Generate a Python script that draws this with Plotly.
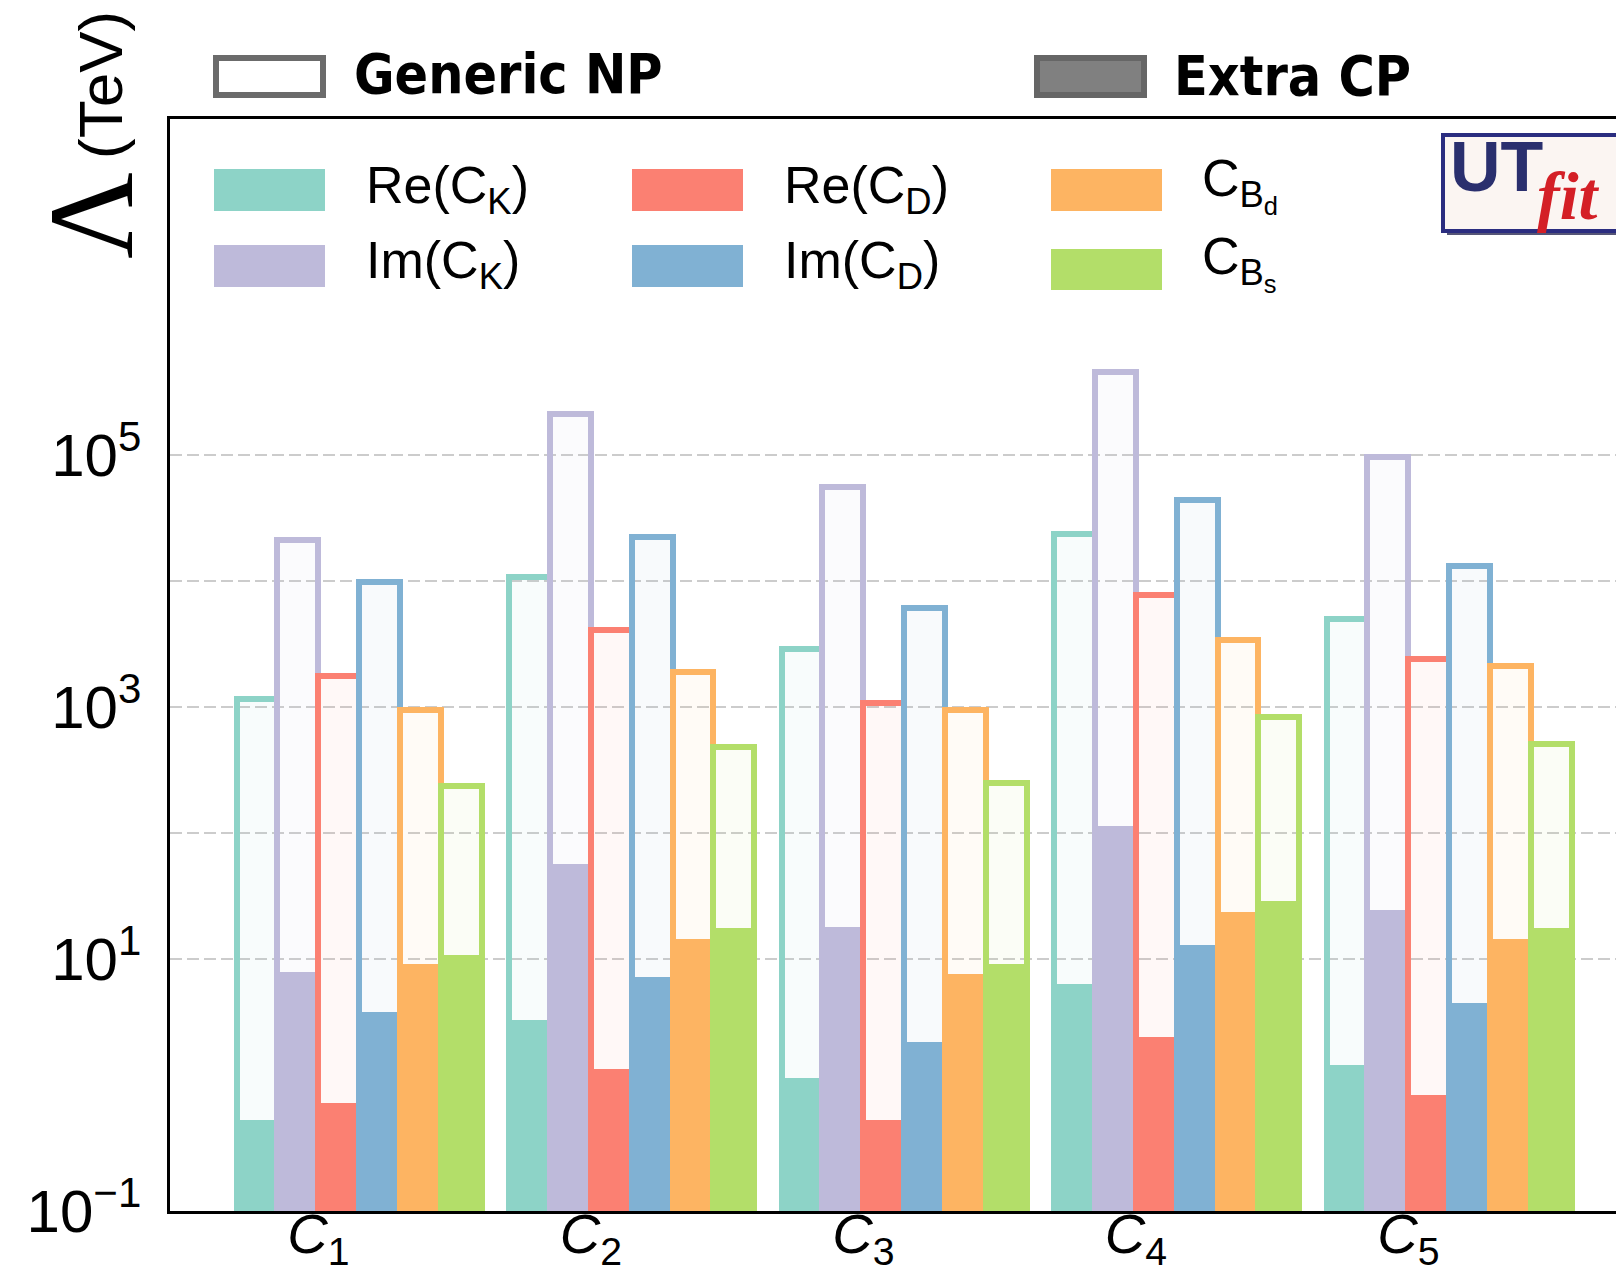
import plotly.graph_objects as go

# ---------------- data ----------------
categories = ["C1", "C2", "C3", "C4", "C5"]
category_labels = ["<i>C</i><sub>1</sub>", "<i>C</i><sub>2</sub>", "<i>C</i><sub>3</sub>",
                   "<i>C</i><sub>4</sub>", "<i>C</i><sub>5</sub>"]
series_names = ["Re(C<sub>K</sub>)", "Im(C<sub>K</sub>)", "Re(C<sub>D</sub>)",
                "Im(C<sub>D</sub>)", "C<sub>B<sub>d</sub></sub>", "C<sub>B<sub>s</sub></sub>"]
series_colors = ["#8dd3c7", "#bebada", "#fb8072", "#80b1d3", "#fdb462", "#b3de69"]

# Generic NP bound (TeV) per series, per category C1..C5
generic_re_ck = [1.15e3, 1.08e4, 2.9e3, 2.35e4, 5.0e3]
generic_im_ck = [2.1e4, 2.1e5, 5.6e4, 4.6e5, 9.7e4]
generic_re_cd = [1.75e3, 4.1e3, 1.07e3, 7.8e3, 2.4e3]
generic_im_cd = [9.8e3, 2.25e4, 6.1e3, 4.4e4, 1.32e4]
generic_cbd = [950, 1.9e3, 950, 3.4e3, 2.1e3]
generic_cbs = [235, 480, 248, 830, 510]

# Extra CP bound (TeV)
extra_re_ck = [0.40, 3.0, 0.97, 5.9, 1.26]
extra_im_ck = [7.4, 54, 17, 108, 23]
extra_re_cd = [0.58, 1.18, 0.40, 2.16, 0.69]
extra_im_cd = [3.5, 6.7, 1.96, 12.1, 4.1]
extra_cbd = [8.5, 13.6, 7.1, 22.3, 13.6]
extra_cbs = [10, 16.7, 8.6, 27, 16.7]

generic = [generic_re_ck, generic_im_ck, generic_re_cd, generic_im_cd, generic_cbd, generic_cbs]
extra = [extra_re_ck, extra_im_ck, extra_re_cd, extra_im_cd, extra_cbd, extra_cbs]

y_tickvals = [0.1, 10, 100, 1000, 1e4, 1e5]
y_ticktext = ["10<sup>\u22121</sup>", "10<sup>1</sup>", "", "10<sup>3</sup>", "", "10<sup>5</sup>"]

# ---------------- layout geometry (screen pixels) ----------------
OFF = 8                      # default body margin of the page
W, H = 1624 - 2 * OFF, 1282 - 2 * OFF
PL, PR, PT, PB = 170, 1616, 119, 1211
BAR_W = 0.15
TICK0, PITCH = 318.3, 272.5


def px(x):
    return (x - PL) / (PR - PL)


def py(y):
    return (PB - y) / (PB - PT)


def rgba(hexc, a):
    h = hexc.lstrip("#")
    r, g, b = int(h[0:2], 16), int(h[2:4], 16), int(h[4:6], 16)
    return f"rgba({r},{g},{b},{a})"


fig = go.Figure()
for k in range(6):
    c = series_colors[k]
    fig.add_trace(go.Bar(
        x=categories, y=generic[k], base=0.1, width=BAR_W, offset=(k - 2) * BAR_W,
        marker=dict(color=rgba(c, 0.06), line=dict(color=c, width=6)),
        showlegend=False, name="Generic NP"))
    fig.add_trace(go.Bar(
        x=categories, y=extra[k], base=0.1, width=BAR_W, offset=(k - 2) * BAR_W,
        marker=dict(color=c, line=dict(color=c, width=6)),
        showlegend=False, name="Extra CP"))

shapes = []
annotations = []

# colour legend inside the plot
sw_x = [(214, 325), (214, 325), (632, 743), (632, 743), (1051, 1162), (1051, 1162)]
sw_y = [(169, 211), (245, 287), (169, 211), (245, 287), (169, 211), (249, 290)]
lab_x = [364, 364, 782, 782, 1200, 1200]
lab_y = [189, 264, 189, 264, 184, 263]
for k in range(6):
    (x0, x1), (y0, y1) = sw_x[k], sw_y[k]
    shapes.append(dict(type="rect", xref="paper", yref="paper",
                       x0=px(x0), x1=px(x1), y0=py(y1), y1=py(y0),
                       fillcolor=series_colors[k], line=dict(width=0)))
    annotations.append(dict(xref="paper", yref="paper", x=px(lab_x[k]), y=py(lab_y[k]),
                            xanchor="left", yanchor="middle", showarrow=False,
                            text=series_names[k],
                            font=dict(family="Liberation Sans, Arial", size=52, color="black")))

# top legend: Generic NP / Extra CP
hand_font = dict(family="DejaVu Sans Condensed, Liberation Sans",
                 size=55, color="black", weight="bold")
shapes.append(dict(type="rect", xref="paper", yref="paper",
                   x0=px(216), x1=px(323), y0=py(95), y1=py(58),
                   fillcolor="white", line=dict(color="#6b6b6b", width=6)))
shapes.append(dict(type="rect", xref="paper", yref="paper",
                   x0=px(1037), x1=px(1144), y0=py(95), y1=py(58),
                   fillcolor="#808080", line=dict(color="#666666", width=6)))
annotations.append(dict(xref="paper", yref="paper", x=px(352), y=py(74),
                        xanchor="left", yanchor="middle", showarrow=False,
                        text="Generic NP", font=hand_font))
annotations.append(dict(xref="paper", yref="paper", x=px(1172), y=py(76),
                        xanchor="left", yanchor="middle", showarrow=False,
                        text="Extra CP", font=hand_font))

# UTfit logo
shapes.append(dict(type="rect", xref="paper", yref="paper",
                   x0=px(1447), x1=px(1622), y0=py(235), y1=py(139),
                   fillcolor="#555577", line=dict(width=0), layer="above"))
shapes.append(dict(type="rect", xref="paper", yref="paper",
                   x0=px(1443), x1=px(1618), y0=py(231), y1=py(135),
                   fillcolor="#fbf5f2", line=dict(color="#2b2d80", width=4), layer="above"))
annotations.append(dict(xref="paper", yref="paper", x=px(1496), y=py(167),
                        xanchor="center", yanchor="middle", showarrow=False, text="<b>UT</b>",
                        font=dict(family="Liberation Sans, Arial", size=70, color="#2a2f6e")))
annotations.append(dict(xref="paper", yref="paper", x=px(1568), y=py(196),
                        xanchor="center", yanchor="middle", showarrow=False, text="<b><i>fit</i></b>",
                        font=dict(family="Liberation Serif, DejaVu Serif", size=68, color="#d41f26")))

# y-axis title: Lambda (TeV)
annotations.append(dict(xref="paper", yref="paper", x=px(91), y=py(216),
                        xanchor="center", yanchor="middle", showarrow=False, text="\u039b",
                        textangle=-90,
                        font=dict(family="Liberation Serif, DejaVu Serif", size=120, color="black")))
annotations.append(dict(xref="paper", yref="paper", x=px(100), y=py(85),
                        xanchor="center", yanchor="middle", showarrow=False, text="(TeV)",
                        textangle=-90,
                        font=dict(family="Liberation Sans, Arial", size=62, color="black")))

fig.update_layout(
    width=W, height=H,
    margin=dict(l=PL - OFF, r=(OFF + W) - PR, t=PT - OFF, b=(OFF + H) - PB, pad=0,
                autoexpand=False),
    paper_bgcolor="white", plot_bgcolor="white",
    barmode="overlay", bargap=0,
    shapes=shapes, annotations=annotations,
    showlegend=False,
)
fig.update_xaxes(
    type="category", categoryorder="array", categoryarray=categories,
    range=[-(TICK0 - PL) / PITCH, (PR - TICK0) / PITCH],
    tickvals=categories, ticktext=category_labels,
    tickfont=dict(family="Liberation Sans, Arial", size=56, color="black"),
    showgrid=False, showline=True, linecolor="black", linewidth=2.5, mirror=True,
    ticks="", zeroline=False, ticklabelstandoff=-28, automargin=False,
)
fig.update_yaxes(
    type="log", range=[-1, 7.667],
    tickvals=y_tickvals, ticktext=y_ticktext,
    tickfont=dict(family="Liberation Sans, Arial", size=60, color="black"),
    showgrid=True, gridcolor="#cccccc", gridwidth=2, griddash="12px,5px",
    showline=True, linecolor="black", linewidth=2.5, mirror=False,
    ticks="", zeroline=False, ticklabelstandoff=14, automargin=False,
)

fig.write_html("out.html")
